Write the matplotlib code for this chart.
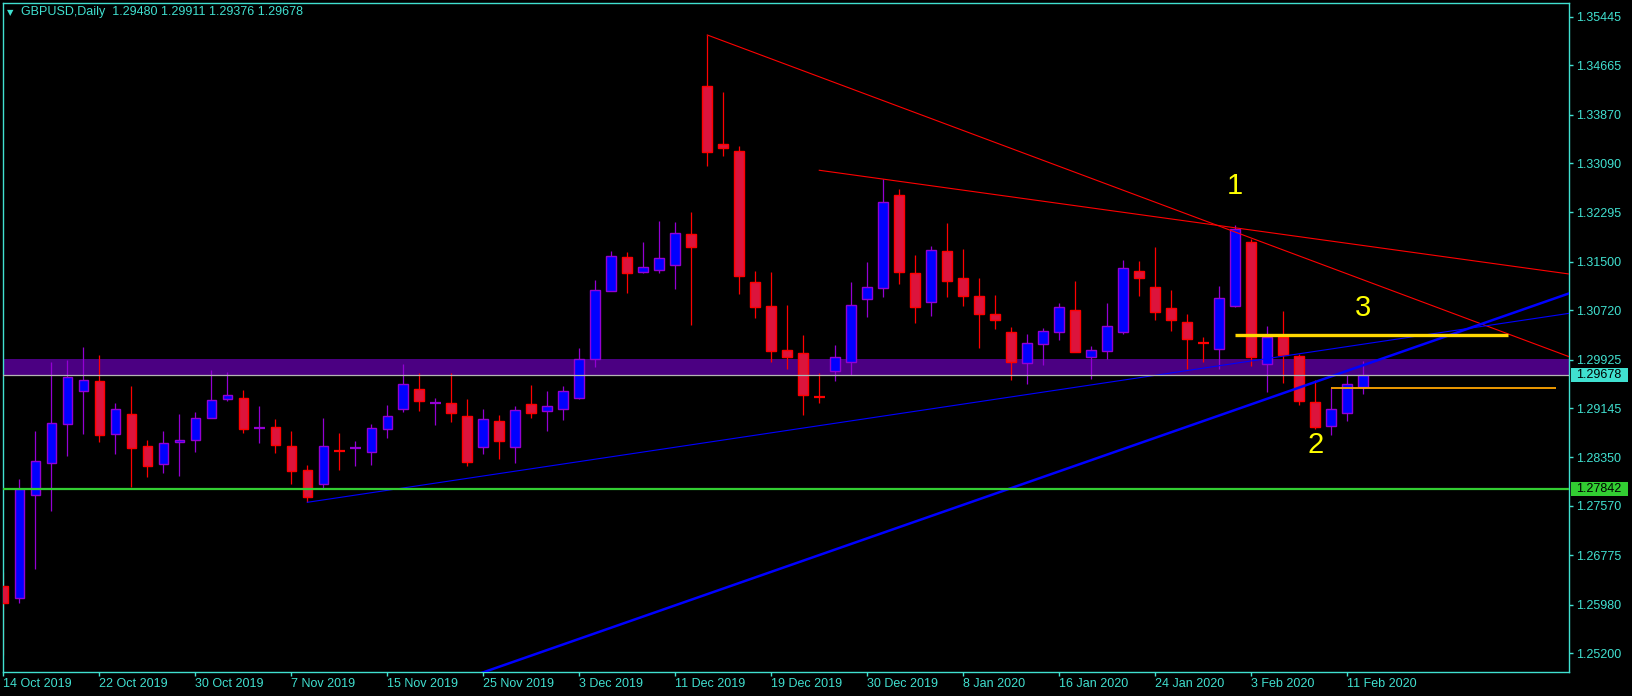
import matplotlib
matplotlib.use("Agg")
import matplotlib.pyplot as plt
from matplotlib.patches import Rectangle
from matplotlib.transforms import blended_transform_factory

plt.rcParams['font.family'] = ['Liberation Sans', 'DejaVu Sans']

# GBPUSD daily candles, 14 Oct 2019 .. 12 Feb 2020 (bar index 0..85)
opens = [1.26281, 1.26083, 1.27741, 1.28266, 1.28894, 1.29425, 1.29581, 1.28723, 1.29050, 1.28535,
         1.28250, 1.28594, 1.28627, 1.28981, 1.29287, 1.29303, 1.28828, 1.28836, 1.28530, 1.28144,
         1.27928, 1.28461, 1.28496, 1.28443, 1.28814, 1.29136, 1.29448, 1.29225, 1.29222, 1.29013,
         1.28524, 1.28937, 1.28524, 1.29211, 1.29093, 1.29136, 1.29313, 1.29931, 1.31026, 1.31573,
         1.31331, 1.31364, 1.31444, 1.31943, 1.34331, 1.33392, 1.33284, 1.31170, 1.30789, 1.30081,
         1.30027, 1.29331, 1.29738, 1.29882, 1.30906, 1.31074, 1.32571, 1.31315, 1.30849, 1.31670,
         1.31235, 1.30950, 1.30660, 1.30365, 1.29866, 1.30172, 1.30375, 1.30720, 1.29963, 1.30069,
         1.30375, 1.31352, 1.31095, 1.30752, 1.30526, 1.30190, 1.30092, 1.30794, 1.31819, 1.29850,
         1.30295, 1.29984, 1.29243, 1.28862, 1.29071, 1.29480]
highs = [1.26511, 1.28004, 1.28776, 1.29887, 1.29920, 1.30134, 1.30005, 1.29227, 1.29501, 1.28632,
         1.28776, 1.29050, 1.29087, 1.29759, 1.29726, 1.29437, 1.29179, 1.28970, 1.28776, 1.28229,
         1.28986, 1.28744, 1.28615, 1.28889, 1.29195, 1.29855, 1.29705, 1.29308, 1.29705, 1.29287,
         1.29131, 1.29034, 1.29179, 1.29517, 1.29420, 1.29501, 1.30113, 1.31208, 1.31679, 1.31654,
         1.31819, 1.32157, 1.32141, 1.32302, 1.35152, 1.34234, 1.33365, 1.31352, 1.31336, 1.30805,
         1.30322, 1.29705, 1.30161, 1.31170, 1.31497, 1.32838, 1.32673, 1.31610, 1.31755, 1.32125,
         1.31707, 1.31240, 1.30966, 1.30446, 1.30338, 1.30430, 1.30832, 1.31191, 1.30145, 1.30832,
         1.31530, 1.31513, 1.31739, 1.31047, 1.30660, 1.30290, 1.31111, 1.32088, 1.31863, 1.30467,
         1.30708, 1.30016, 1.29598, 1.29464, 1.29678, 1.29911]
lows = [1.25170, 1.26012, 1.26559, 1.27488, 1.28374, 1.28728, 1.28604, 1.28406, 1.27880, 1.28041,
        1.28105, 1.28057, 1.28443, 1.28981, 1.29259, 1.28749, 1.28588, 1.28422, 1.27928, 1.27628,
        1.27864, 1.28148, 1.28213, 1.28229, 1.28664, 1.29087, 1.29103, 1.28873, 1.28926, 1.28218,
        1.28411, 1.28331, 1.28266, 1.28991, 1.28781, 1.28959, 1.29297, 1.29812, 1.31026, 1.31003,
        1.31315, 1.31325, 1.31068, 1.30483, 1.33048, 1.33209, 1.30987, 1.30601, 1.29892, 1.29775,
        1.29034, 1.29222, 1.29586, 1.29678, 1.30617, 1.30939, 1.31148, 1.30520, 1.30633, 1.30939,
        1.30794, 1.30118, 1.30419, 1.29598, 1.29533, 1.29839, 1.30242, 1.30053, 1.29614, 1.29936,
        1.30343, 1.30955, 1.30568, 1.30391, 1.29770, 1.29892, 1.29770, 1.30768, 1.29828, 1.29409,
        1.29554, 1.29195, 1.28809, 1.28712, 1.28942, 1.29376]
closes = [1.26012, 1.27843, 1.28289, 1.28900, 1.29641, 1.29593, 1.28717, 1.29126, 1.28508, 1.28218,
          1.28578, 1.28632, 1.28981, 1.29271, 1.29351, 1.28814, 1.28830, 1.28556, 1.28137, 1.27719,
          1.28530, 1.28457, 1.28498, 1.28820, 1.29013, 1.29528, 1.29264, 1.29227, 1.29061, 1.28282,
          1.28965, 1.28620, 1.29110, 1.29071, 1.29174, 1.29415, 1.29931, 1.31042, 1.31589, 1.31315,
          1.31412, 1.31557, 1.31959, 1.31744, 1.33273, 1.33338, 1.31277, 1.30778, 1.30060, 1.29973,
          1.29361, 1.29327, 1.29963, 1.30800, 1.31090, 1.32458, 1.31341, 1.30778, 1.31686, 1.31196,
          1.30955, 1.30665, 1.30568, 1.29882, 1.30188, 1.30382, 1.30768, 1.30053, 1.30076, 1.30462,
          1.31401, 1.31245, 1.30697, 1.30568, 1.30262, 1.30186, 1.30913, 1.32034, 1.29973, 1.30295,
          1.30005, 1.29264, 1.28846, 1.29126, 1.29528, 1.29678]

date_ticks = [0, 6, 12, 18, 24, 30, 36, 42, 48, 54, 60, 66, 72, 78, 84]
date_labels = ['14 Oct 2019', '22 Oct 2019', '30 Oct 2019', '7 Nov 2019', '15 Nov 2019',
               '25 Nov 2019', '3 Dec 2019', '11 Dec 2019', '19 Dec 2019', '30 Dec 2019',
               '8 Jan 2020', '16 Jan 2020', '24 Jan 2020', '3 Feb 2020', '11 Feb 2020']
price_ticks = [1.35445, 1.34665, 1.33870, 1.33090, 1.32295, 1.31500, 1.30720, 1.29925,
               1.29145, 1.28350, 1.27570, 1.26775, 1.25980, 1.25200]

bid = 1.29678
support = 1.27842
zone = (1.29678, 1.29936)

# hand-drawn objects: (bar, price) anchors, extended as rays
red_lines = [((44, 1.35152), (97.86, 1.29973)), ((51, 1.32974), (97.86, 1.31304))]
blue_thin = ((19, 1.27628), (97.88, 1.30671))
blue_thick = ((30.0, 1.24891), (97.88, 1.30993))
yellow_level = (77.0, 94.06, 1.30317)
orange_level = (83.0, 97.04, 1.29470)
wave_labels = [('1', 76.98, 1.32716), ('2', 82.0, 1.28556), ('3', 85.0, 1.30762)]

FG = '#40E0D0'
BULL_BODY, BULL_EDGE = '#0000FF', '#9400D3'
BEAR_BODY, BEAR_EDGE = '#DC143C', '#FF0000'

fig = plt.figure(figsize=(16.33, 6.96), dpi=100, facecolor='black')
ax = fig.add_axes([3 / 1633, 24 / 696, 1566 / 1633, 669 / 696], facecolor='black')
ax.set_xlim(-0.02, 97.86)
ax.set_ylim(1.24896, 1.35667)

ax.axhspan(zone[0], zone[1], color='#4B0082', zorder=0, lw=0)

w = 0.6
for i in range(len(opens)):
    o, h, l, c = opens[i], highs[i], lows[i], closes[i]
    bull = c >= o
    edge = BULL_EDGE if bull else BEAR_EDGE
    body = BULL_BODY if bull else BEAR_BODY
    ax.vlines(i, l, h, color=edge, lw=0.9, zorder=2)
    if abs(c - o) < 0.00008:
        ax.hlines((o + c) / 2, i - 0.34, i + 0.34, color=edge, lw=1.6, zorder=3)
    else:
        ax.bar(i, abs(c - o), bottom=min(o, c), width=w, color=body, edgecolor=edge,
               linewidth=1.0, zorder=3)


def ray(p1, p2, x_end=100):
    (x1, y1), (x2, y2) = p1, p2
    k = (y2 - y1) / (x2 - x1)
    return [x1, x_end], [y1, y1 + k * (x_end - x1)]


for p1, p2 in red_lines:
    xs, ys = ray(p1, p2)
    ax.plot(xs, ys, color='#FF0000', lw=0.8, zorder=5)
xs, ys = ray(*blue_thin)
ax.plot(xs, ys, color='#0000FF', lw=0.8, zorder=5)
(x1, y1), (x2, y2) = blue_thick
k = (y2 - y1) / (x2 - x1)
ax.plot([x1 - 5, 100], [y1 - 5 * k, y1 + k * (100 - x1)], color='#0000FF', lw=1.8, zorder=5)

ax.hlines(yellow_level[2], yellow_level[0], yellow_level[1], color='#FFD700', lw=2.4, zorder=6)
ax.hlines(orange_level[2], orange_level[0], orange_level[1], color='#FFA500', lw=1.3, zorder=6)
ax.axhline(support, color='#32CD32', lw=1.6, zorder=6)
ax.axhline(bid, color='#B4B4B4', lw=0.9, zorder=6)

for txt, x, y in wave_labels:
    ax.text(x, y, txt, color='#FFFF00', fontsize=21, ha='center', va='center', zorder=7)

# axes styling
for s in ax.spines.values():
    s.set_color(FG)
    s.set_linewidth(1.0)
ax.yaxis.tick_right()
ax.set_yticks(price_ticks)
ax.set_yticklabels(['%.5f' % p for p in price_ticks])
ax.set_xticks(date_ticks)
ax.set_xticklabels(date_labels, ha='left')
ax.tick_params(colors=FG, labelsize=9, length=3, width=1, pad=2)
ax.tick_params(axis='x', pad=1.5)

# price tags on the right scale
tr = blended_transform_factory(fig.transFigure, ax.transData)
tag_h = 14 * 0.00016103
for price, bg in [(bid, FG), (support, '#32CD32')]:
    ax.add_patch(Rectangle((1571 / 1633, price - tag_h / 2), 57 / 1633, tag_h, transform=tr,
                           facecolor=bg, edgecolor='none', clip_on=False, zorder=8))
    ax.text(1576 / 1633, price, '%.5f' % price, transform=tr, color='black', fontsize=9,
            ha='left', va='center', clip_on=False, zorder=9)

# header
fig.text(7 / 1633, 1 - 12.5 / 696, '\u25bc', color=FG, fontsize=6, ha='left', va='center',
         family='DejaVu Sans')
fig.text(21 / 1633, 1 - 12.5 / 696, 'GBPUSD,Daily  1.29480 1.29911 1.29376 1.29678',
         color=FG, fontsize=9, ha='left', va='center')

fig.savefig('out.png', dpi=100, facecolor='black')
